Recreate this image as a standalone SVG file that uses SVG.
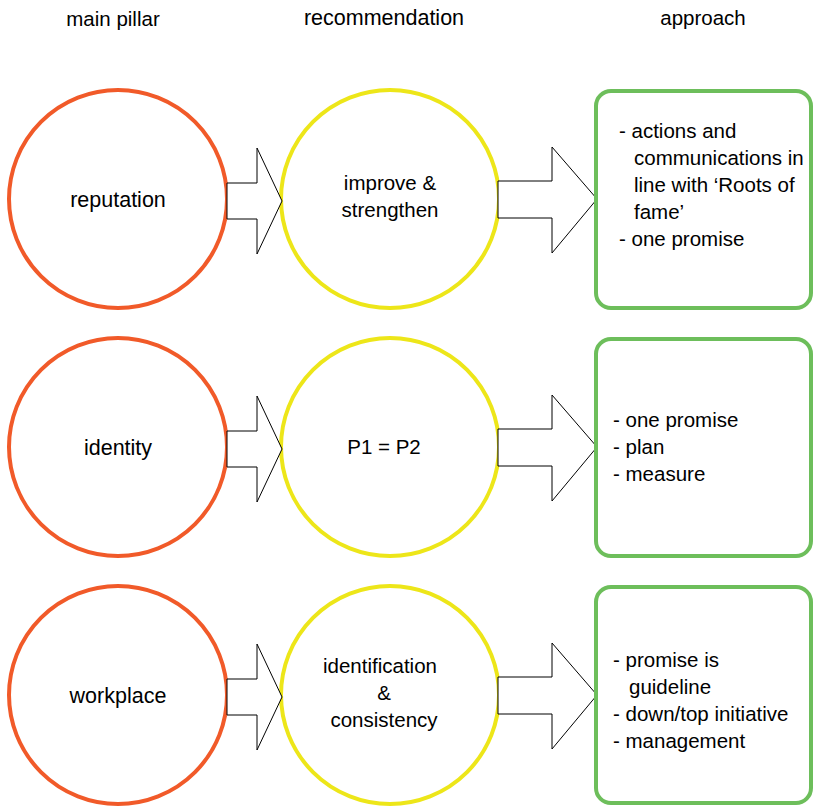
<svg xmlns="http://www.w3.org/2000/svg" width="813" height="806" viewBox="0 0 813 806">
<style>
text{font-family:"Liberation Sans",Arial,sans-serif;font-size:20.5px;fill:#000}
.c{text-anchor:middle}
.big{font-size:21.5px}
.pillar{fill:#fff;stroke:#F15A29;stroke-width:4}
.rec{fill:#fff;stroke:#EDE619;stroke-width:4}
.box{fill:#fff;stroke:#6DBE5B;stroke-width:4}
.arr{fill:#fff;stroke:#000;stroke-width:1}
</style>
<defs>
<path id="a1" d="M227,183 H257 V148 L282,201 L257,254 V219 H227 Z"/>
<path id="a2" d="M498,181 H552 V147 L597,199 L552,253 V218 H498 Z"/>
</defs>
<g id="headers">
<text class="c" x="113" y="26">main pillar</text>
<text class="c big" x="384" y="25">recommendation</text>
<text class="c" x="703" y="25">approach</text>
</g>
<g id="reputation">
<circle class="pillar" cx="118" cy="199" r="109"/>
<text class="c big" x="118" y="207">reputation</text>
</g>
<g id="identity">
<circle class="pillar" cx="118" cy="447" r="109"/>
<text class="c big" x="118" y="455">identity</text>
</g>
<g id="workplace">
<circle class="pillar" cx="118" cy="695" r="109"/>
<text class="c big" x="118" y="703">workplace</text>
</g>
<g id="improve">
<circle class="rec" cx="390" cy="199" r="109"/>
<text class="c" x="390" y="190">improve &amp;</text>
<text class="c" x="390" y="217">strengthen</text>
</g>
<g id="p1p2">
<circle class="rec" cx="390" cy="447" r="109"/>
<text class="c" x="384" y="454">P1 = P2</text>
</g>
<g id="identification">
<circle class="rec" cx="390" cy="695" r="109"/>
<text class="c" x="380" y="673">identification</text>
<text class="c" x="384" y="700">&amp;</text>
<text class="c" x="384" y="727">consistency</text>
</g>
<g id="connectors">
<use href="#a1" class="arr"/>
<use href="#a2" class="arr"/>
<use href="#a1" class="arr" y="248"/>
<use href="#a2" class="arr" y="248"/>
<use href="#a1" class="arr" y="496"/>
<use href="#a2" class="arr" y="496"/>
</g>
<g id="approach1">
<rect class="box" x="596" y="91" width="215" height="217" rx="15"/>
<text x="619" y="138">- actions and</text>
<text x="634" y="165">communications in</text>
<text x="634" y="192">line with ‘Roots of</text>
<text x="634" y="219">fame’</text>
<text x="619" y="246">- one promise</text>
</g>
<g id="approach2">
<rect class="box" x="596" y="339" width="215" height="217" rx="15"/>
<text x="613" y="427">- one promise</text>
<text x="613" y="454">- plan</text>
<text x="613" y="481">- measure</text>
</g>
<g id="approach3">
<rect class="box" x="596" y="587" width="215" height="216" rx="15"/>
<text x="613" y="667">- promise is</text>
<text x="629" y="694">guideline</text>
<text x="613" y="721">- down/top initiative</text>
<text x="613" y="748">- management</text>
</g>
</svg>
